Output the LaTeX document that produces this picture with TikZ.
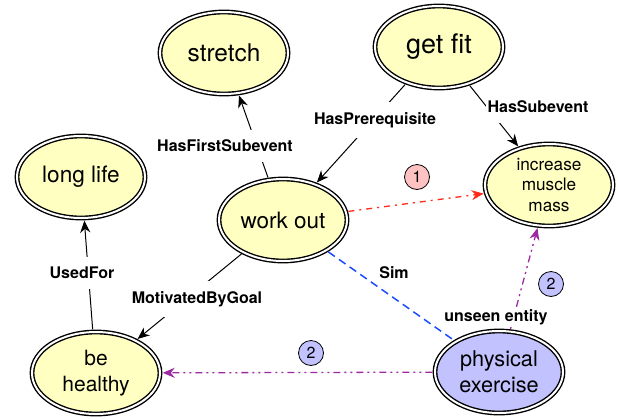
\documentclass[tikz,border=0pt]{standalone}
\usepackage{fontspec}
\setmainfont{TeX Gyre Heros}
\usepackage{tikz}
\usetikzlibrary{arrows.meta, positioning, shapes.geometric}

\definecolor{conceptfill}{HTML}{FFFFC2}
\definecolor{unseenfill}{HTML}{C2C2FF}
\definecolor{pinkfill}{HTML}{FFC2C2}
\definecolor{simblue}{HTML}{1A4BFF}
\definecolor{hopred}{HTML}{FF2A1A}
\definecolor{hoppurple}{HTML}{9B2AA0}

\newcommand{\fsz}[2]{\fontsize{#1pt}{#2pt}\selectfont}

\tikzset{
	concept/.style={ellipse, draw=black, line width=1.4pt, double=white, double distance=2pt,
		fill=conceptfill, minimum width=128pt, minimum height=82pt, inner sep=0pt, align=center},
	edge/.style={line width=1pt, shorten >=2pt, shorten <=2pt},
	rel/.style={fill=white, font=\bfseries\fsz{16}{19}, inner xsep=2pt, inner ysep=10pt},
	hopnum/.style={circle, draw=black, line width=0.8pt, minimum size=25pt, inner sep=0pt, font=\fsz{16}{19}}
}

\begin{document}
\begin{tikzpicture}[x=1pt, y=-1pt,
			>={Stealth[length=12pt, width=10pt]},
			auto]
			
			\useasboundingbox (0,0) rectangle (618,418);
			
			\node[concept, font=\fsz{24.4}{29}] (stretch) at (224,53) {stretch};
			\node[concept, font=\fsz{27}{32}] (getfit) at (439,47) {get fit};
			\node[concept, font=\fsz{22.6}{27}] (longlife) at (81,177) {long life};
			\node[concept, font=\fsz{22.5}{27}] (workout) at (283,220) {work out};
			\node[concept, font=\fsz{17.2}{20.5}] (muscle) at (549,185) {increase\\muscle\\mass};
			\node[concept, font=\fsz{21}{25}] (healthy) at (96,373) {be\\[1pt]healthy};
			\node[concept, fill=unseenfill, font=\fsz{21.7}{25}] (exercise) at (499,372) {physical\\[1pt]exercise};
			
			\draw[->, edge] (workout) -- (stretch);
			\draw[->, edge] (getfit) -- (workout);
			\draw[->, edge] (getfit) -- (muscle);
			\draw[->, edge] (healthy) -- (longlife);
			\draw[->, edge] (workout) -- (healthy);
			\draw[edge, simblue, line width=1.5pt, dash pattern=on 8pt off 5pt] (workout) -- (exercise);
			\draw[->, edge, hopred, line width=1.3pt, dash pattern=on 6pt off 5pt on 2pt off 5pt] (workout) -- (muscle);
			\draw[->, edge, hoppurple, line width=1.3pt, dash pattern=on 7pt off 4pt on 2pt off 4pt on 2pt off 4pt] (exercise) -- (muscle);
			\draw[->, edge, hoppurple, line width=1.3pt, dash pattern=on 7pt off 4pt on 2pt off 4pt on 2pt off 4pt] (exercise) -- (healthy);
			
			\node[rel] (hfs) at (225,146) {HasFirstSubevent};
			\node[rel] (hpre) at (375,120) {HasPrerequisite};
			\node[rel] (hsub) at (538,107) {HasSubevent};
			\node[rel] (used) at (82,273) {UsedFor};
			\node[rel] (motiv) at (197,299) {MotivatedByGoal};
			\node[font=\bfseries\fsz{16}{19}] (sim) at (394,273) {Sim};
			\node[rel, inner ysep=2pt, above=3pt of exercise, xshift=-3pt] (unseen) {unseen entity};
			
			\node[hopnum, fill=pinkfill] (one) at (417,177) {1};
			\node[hopnum, fill=unseenfill] (twoa) at (551,284) {2};
			\node[hopnum, fill=unseenfill] (twob) at (311,353) {2};
		\end{tikzpicture}
\end{document}
